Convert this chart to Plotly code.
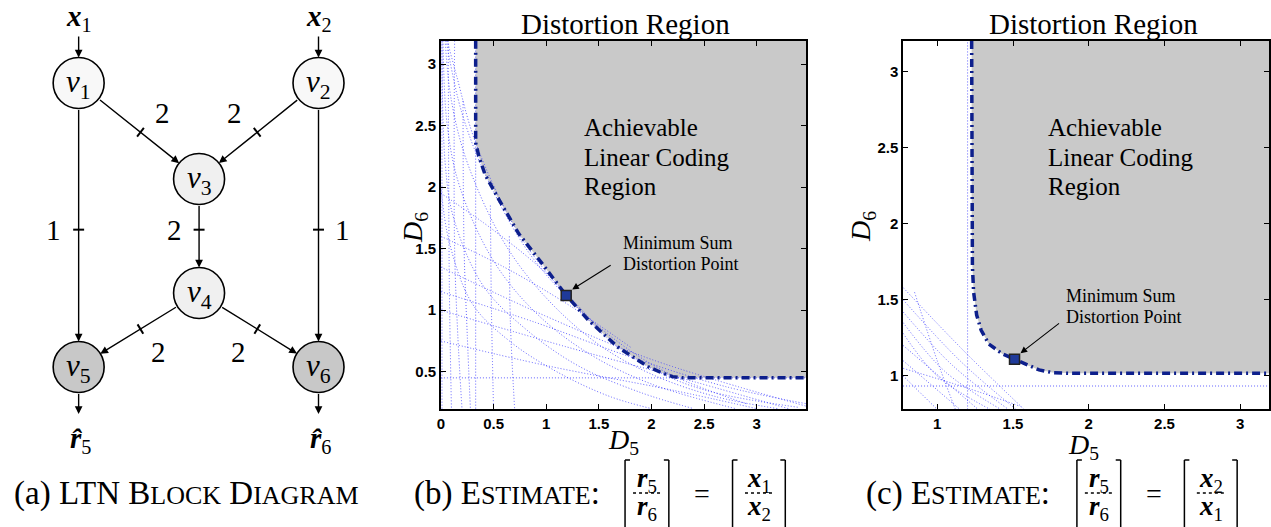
import math
import plotly.graph_objects as go

W, H = 1271, 527
SERIF = "'Liberation Serif', 'DejaVu Serif', 'Times New Roman', serif"
SANS = "'Liberation Sans', Arial, 'DejaVu Sans', sans-serif"

# ---------------- panel (b) data ----------------
b_bound_x = [0.33, 0.33, 0.36, 0.42, 0.55, 0.74, 0.96, 1.19, 1.40, 1.68, 1.97, 2.10, 2.20, 2.30, 3.47]
b_bound_y = [3.19, 2.36, 2.25, 2.10, 1.90, 1.62, 1.38, 1.12, 0.92, 0.70, 0.54, 0.49, 0.46, 0.45, 0.45]
b_min = (1.19, 1.12)
b_dotted = [
    ([0.33, 0.33], [0.20, 3.19]),
    ([0.0, 3.47], [0.45, 0.45]),
    ([0.01, 0.01], [0.20, 3.19]),
    ([0.06, 0.15, 0.33, 0.74, 1.19, 1.68, 2.16, 2.60, 3.40], [3.19, 2.90, 2.36, 1.62, 1.12, 0.70, 0.46, 0.33, 0.21]),
    ([0.04, 0.10, 0.25, 0.60, 1.00, 1.50, 2.00, 2.60, 3.20], [3.19, 2.70, 2.20, 1.55, 1.10, 0.72, 0.48, 0.30, 0.20]),
    ([0.02, 0.06, 0.18, 0.50, 0.90, 1.40, 2.00, 2.80], [3.19, 2.50, 2.00, 1.40, 0.98, 0.65, 0.40, 0.20]),
    ([0.01, 0.04, 0.12, 0.40, 0.80, 1.30, 1.90, 2.40], [3.19, 2.20, 1.75, 1.20, 0.85, 0.55, 0.33, 0.20]),
    ([0.0, 0.08, 0.30, 0.65, 1.10, 1.60, 2.00], [2.00, 1.55, 1.05, 0.75, 0.50, 0.30, 0.20]),
    ([0.05, 0.20, 0.45, 0.85, 1.30, 1.75, 2.20, 2.90], [3.19, 2.60, 2.05, 1.45, 1.02, 0.70, 0.47, 0.24]),
    ([0.0, 1.00, 2.00, 3.47], [1.35, 0.95, 0.60, 0.22]),
    ([0.0, 1.20, 2.40, 3.30], [1.00, 0.70, 0.42, 0.20]),
    ([0.0, 1.00, 2.20, 3.00], [0.75, 0.55, 0.35, 0.20]),
    ([0.0, 0.90, 1.80, 2.70, 3.47], [1.15, 0.90, 0.62, 0.38, 0.24]),
    ([0.13, 0.13, 0.16, 0.20], [3.19, 1.50, 0.80, 0.20]),
    ([0.21, 0.22, 0.25, 0.28], [2.70, 1.50, 0.80, 0.20]),
    ([0.07, 0.08, 0.10], [3.19, 1.20, 0.20]),
    ([0.47, 0.48, 0.50], [1.85, 1.00, 0.20]),
    ([0.65, 0.66, 0.70], [1.60, 0.90, 0.20]),
    ([0.0, 0.60, 1.20, 1.80], [1.60, 1.35, 1.05, 0.70]),
    ([0.0, 0.50, 1.00, 1.50], [1.95, 1.65, 1.30, 0.85]),
]
b_xticks = [0, 0.5, 1, 1.5, 2, 2.5, 3]
b_yticks = [0.5, 1, 1.5, 2, 2.5, 3]
b_xrange = [0.0, 3.47]
b_yrange = [0.197, 3.187]

# ---------------- panel (c) data ----------------
c_bound_x = [1.227, 1.227, 1.232, 1.24, 1.26, 1.29, 1.34, 1.43, 1.51, 1.585, 1.672, 1.76, 1.89, 3.19]
c_bound_y = [3.20, 1.94, 1.72, 1.55, 1.40, 1.30, 1.21, 1.145, 1.11, 1.073, 1.04, 1.022, 1.017, 1.017]
c_min = (1.51, 1.11)
c_dotted = [
    ([1.20, 1.20], [0.78, 3.20]),
    ([0.774, 3.19], [0.934, 0.934]),
    ([0.775, 1.19, 1.574], [1.58, 1.15, 0.78]),
    ([0.775, 1.15, 1.52], [1.50, 1.10, 0.78]),
    ([0.775, 1.10, 1.47], [1.42, 1.07, 0.78]),
    ([0.775, 1.05, 1.42], [1.35, 1.03, 0.78]),
    ([0.775, 1.00, 1.35], [1.28, 1.00, 0.78]),
    ([0.775, 1.27], [1.20, 0.78]),
    ([0.775, 1.15], [1.10, 0.78]),
    ([0.775, 1.00], [1.00, 0.78]),
    ([0.85, 1.00, 1.12], [1.55, 1.10, 0.78]),
    ([0.775, 1.20, 1.55], [1.05, 0.92, 0.80]),
]
c_xticks = [1, 1.5, 2, 2.5, 3]
c_yticks = [1, 1.5, 2, 2.5, 3]
c_xrange = [0.774, 3.19]
c_yrange = [0.783, 3.20]

# ---------------- panel (a) block diagram ----------------
node_labels = ["1", "2", "3", "4", "5", "6"]
node_x = [75, 316, 196, 196, 75, 316]
node_y = [83, 83, 179, 293, 367, 367]
node_fill = ["#f8f8f8", "#f8f8f8", "#f0f0f0", "#f0f0f0", "#c8c8c8", "#c8c8c8"]
node_r = 25.5
edges = [(0, 2), (1, 2), (0, 4), (2, 3), (1, 5), (3, 4), (3, 5)]
edge_labels = ["2", "2", "1", "2", "1", "2", "2"]
edge_label_pos = [(159, 113), (232, 113), (50, 230), (171, 230), (340, 230), (155, 352), (236, 352)]
edge_tick_t = [0.52, 0.52, 0.52, 0.40, 0.52, 0.48, 0.48]
inputs = ["<b><i>x</i></b><sub>1</sub>", "<b><i>x</i></b><sub>2</sub>"]
outputs = ["<b><i>r̂</i></b><sub>5</sub>", "<b><i>r̂</i></b><sub>6</sub>"]

fig = go.Figure()
PX = dict(xaxis="x3", yaxis="y3")


def axcfg(domain, rng, ticks, anchor):
    return dict(domain=domain, range=rng, tickvals=ticks,
                ticktext=[("%g" % t) for t in ticks],
                ticks="inside", ticklen=5, tickwidth=1, tickcolor="black",
                mirror="ticks", showline=True, linecolor="black", linewidth=1.5,
                showgrid=False, zeroline=False, anchor=anchor,
                tickfont=dict(family=SANS, size=15, color="black", weight="bold"))


def add_panel(xa, ya, bx, by, dotted, pmin, xr, yr):
    fig.add_trace(go.Scatter(x=bx + [xr[1], bx[0]], y=by + [yr[1], by[0]], mode="lines",
                             fill="toself", fillcolor="#c9c9c9", line=dict(width=0),
                             xaxis=xa, yaxis=ya, hoverinfo="skip", showlegend=False))
    for dx, dy in dotted:
        fig.add_trace(go.Scatter(x=dx, y=dy, mode="lines",
                                 line=dict(color="rgba(60,60,255,0.8)", width=1, dash="1px,2px", shape="spline"),
                                 xaxis=xa, yaxis=ya, hoverinfo="skip", showlegend=False))
    fig.add_trace(go.Scatter(x=bx, y=by, mode="lines",
                             line=dict(color="#0d1f8c", width=3.5, dash="8px,4px,2px,4px"),
                             xaxis=xa, yaxis=ya, hoverinfo="skip", showlegend=False))
    fig.add_trace(go.Scatter(x=[pmin[0]], y=[pmin[1]], mode="markers",
                             marker=dict(symbol="square", size=10, color="#1f3a9a",
                                         line=dict(color="#222222", width=1.5)),
                             xaxis=xa, yaxis=ya, hoverinfo="skip", showlegend=False))


add_panel("x", "y", b_bound_x, b_bound_y, b_dotted, b_min, b_xrange, b_yrange)
add_panel("x2", "y2", c_bound_x, c_bound_y, c_dotted, c_min, c_xrange, c_yrange)

fig.add_trace(go.Scatter(x=node_x, y=node_y, mode="markers",
                         marker=dict(size=2 * node_r, color=node_fill, line=dict(color="black", width=1.6)),
                         hoverinfo="skip", showlegend=False, **PX))

ann = []
shapes = []


def txt(x, y, s, size, xanchor="center", yanchor="middle", family=SERIF, textangle=0, ref=("x3", "y3")):
    ann.append(dict(x=x, y=y, xref=ref[0], yref=ref[1], text=s, showarrow=False,
                    xanchor=xanchor, yanchor=yanchor, textangle=textangle,
                    font=dict(family=family, size=size, color="black")))


def arrow(x0, y0, x1, y1, w=1.4):
    ann.append(dict(x=x1, y=y1, ax=x0, ay=y0, xref="x3", yref="y3", axref="x3", ayref="y3",
                    text="", showarrow=True, arrowhead=2, arrowsize=1.1, arrowwidth=w,
                    arrowcolor="black", standoff=0, startstandoff=0))


def line(x0, y0, x1, y1, w=1.5, dash="solid"):
    shapes.append(dict(type="line", xref="x3", yref="y3", x0=x0, y0=y0, x1=x1, y1=y1,
                       line=dict(color="black", width=w, dash=dash), layer="above"))


for i, lab in enumerate(node_labels):
    txt(node_x[i], node_y[i] + 1, "<i>v</i><sub>%s</sub>" % lab, 31)

for k, (a, b) in enumerate(edges):
    dx, dy = node_x[b] - node_x[a], node_y[b] - node_y[a]
    L = math.hypot(dx, dy)
    ux, uy = dx / L, dy / L
    sx, sy = node_x[a] + node_r * ux, node_y[a] + node_r * uy
    ex, ey = node_x[b] - node_r * ux, node_y[b] - node_r * uy
    arrow(sx, sy, ex, ey)
    t = edge_tick_t[k]
    tx, ty = sx + t * (ex - sx), sy + t * (ey - sy)
    px, py = -uy, ux
    line(tx - 5.5 * px, ty - 5.5 * py, tx + 5.5 * px, ty + 5.5 * py, w=2)
    txt(edge_label_pos[k][0], edge_label_pos[k][1], edge_labels[k], 29)

for i, s in enumerate(inputs):
    txt(node_x[i], 18, s, 29)
    arrow(node_x[i], 35, node_x[i], node_y[i] - node_r)
for j, s in enumerate(outputs):
    n = 4 + j
    arrow(node_x[n], node_y[n] + node_r, node_x[n], 414)
    txt(node_x[n] + 2, 440, s, 29)


def panel_text(tx, ach_x, ms_x, ms_y, d5, d6):
    txt(tx, 24, "Distortion Region", 29)
    txt(ach_x, 127, "Achievable", 25, xanchor="left")
    txt(ach_x, 157, "Linear Coding", 25, xanchor="left")
    txt(ach_x, 186, "Region", 25, xanchor="left")
    txt(ms_x, ms_y, "Minimum Sum", 18, xanchor="left")
    txt(ms_x, ms_y + 21, "Distortion Point", 18, xanchor="left")
    txt(d5[0], d5[1], "<i>D</i><sub>5</sub>", 28)
    txt(d6[0], d6[1], "<i>D</i><sub>6</sub>", 28, textangle=-90)


panel_text(624, 581, 620, 243, (622, 441), (412, 228))
panel_text(1095, 1047, 1065, 296, (1085, 446), (862, 226))

for pm, xa, ya, axo, ayo in [(b_min, "x", "y", 40, -25), (c_min, "x2", "y2", 40, -31)]:
    ann.append(dict(x=pm[0], y=pm[1], xref=xa, yref=ya, xshift=6, yshift=6, ax=axo, ay=ayo,
                    text="", showarrow=True, arrowhead=2, arrowsize=1.2, arrowwidth=1.1,
                    arrowcolor="black", standoff=0))

SC = "<span style='font-size:26px'>%s</span>"
txt(183, 493, "(a) LTN B" + SC % "LOCK" + " D" + SC % "IAGRAM", 33)
for off, top, bot in [(0, "<b><i>x</i></b><sub>1</sub>", "<b><i>x</i></b><sub>2</sub>"),
                      (454, "<b><i>x</i></b><sub>2</sub>", "<b><i>x</i></b><sub>1</sub>")]:
    txt(505 + off, 493, "(" + ("b" if off == 0 else "c") + ") E" + SC % "STIMATE" + ":", 33)
    for xl, xr_, a_top, a_bot in [(624 + off, 668 + off, "<b><i>r</i></b><sub>5</sub>", "<b><i>r</i></b><sub>6</sub>"),
                                  (732 + off, 785 + off, top, bot)]:
        line(xl, 460, xl, 530)
        line(xl, 460, xl + 5, 460)
        line(xr_, 460, xr_, 530)
        line(xr_ - 5, 460, xr_, 460)
        cxm = (xl + xr_) / 2
        txt(cxm, 480, a_top, 27)
        txt(cxm, 508, a_bot, 27)
        line(cxm - 14, 493, cxm + 14, 493, w=1.3, dash="dot")
    txt(701 + off, 493, "=", 28)

fig.update_layout(
    width=W, height=H, margin=dict(l=0, r=0, t=0, b=0),
    paper_bgcolor="white", plot_bgcolor="rgba(0,0,0,0)", showlegend=False,
    xaxis=axcfg([439 / W, 806 / W], b_xrange, b_xticks, "y"),
    yaxis=axcfg([1 - 409 / H, 1 - 41 / H], b_yrange, b_yticks, "x"),
    xaxis2=axcfg([903.3 / W, 1.0], c_xrange, c_xticks, "y2"),
    yaxis2=axcfg([1 - 409 / H, 1 - 41 / H], c_yrange, c_yticks, "x2"),
    xaxis3=dict(domain=[0, 1], range=[0, W], visible=False, anchor="y3", fixedrange=True),
    yaxis3=dict(domain=[0, 1], range=[H, 0], visible=False, anchor="x3", fixedrange=True),
    annotations=ann, shapes=shapes,
)

fig.write_html("out.html", config={"displayModeBar": False},
               post_script="document.body.style.margin='0px';document.body.style.overflow='hidden';")
